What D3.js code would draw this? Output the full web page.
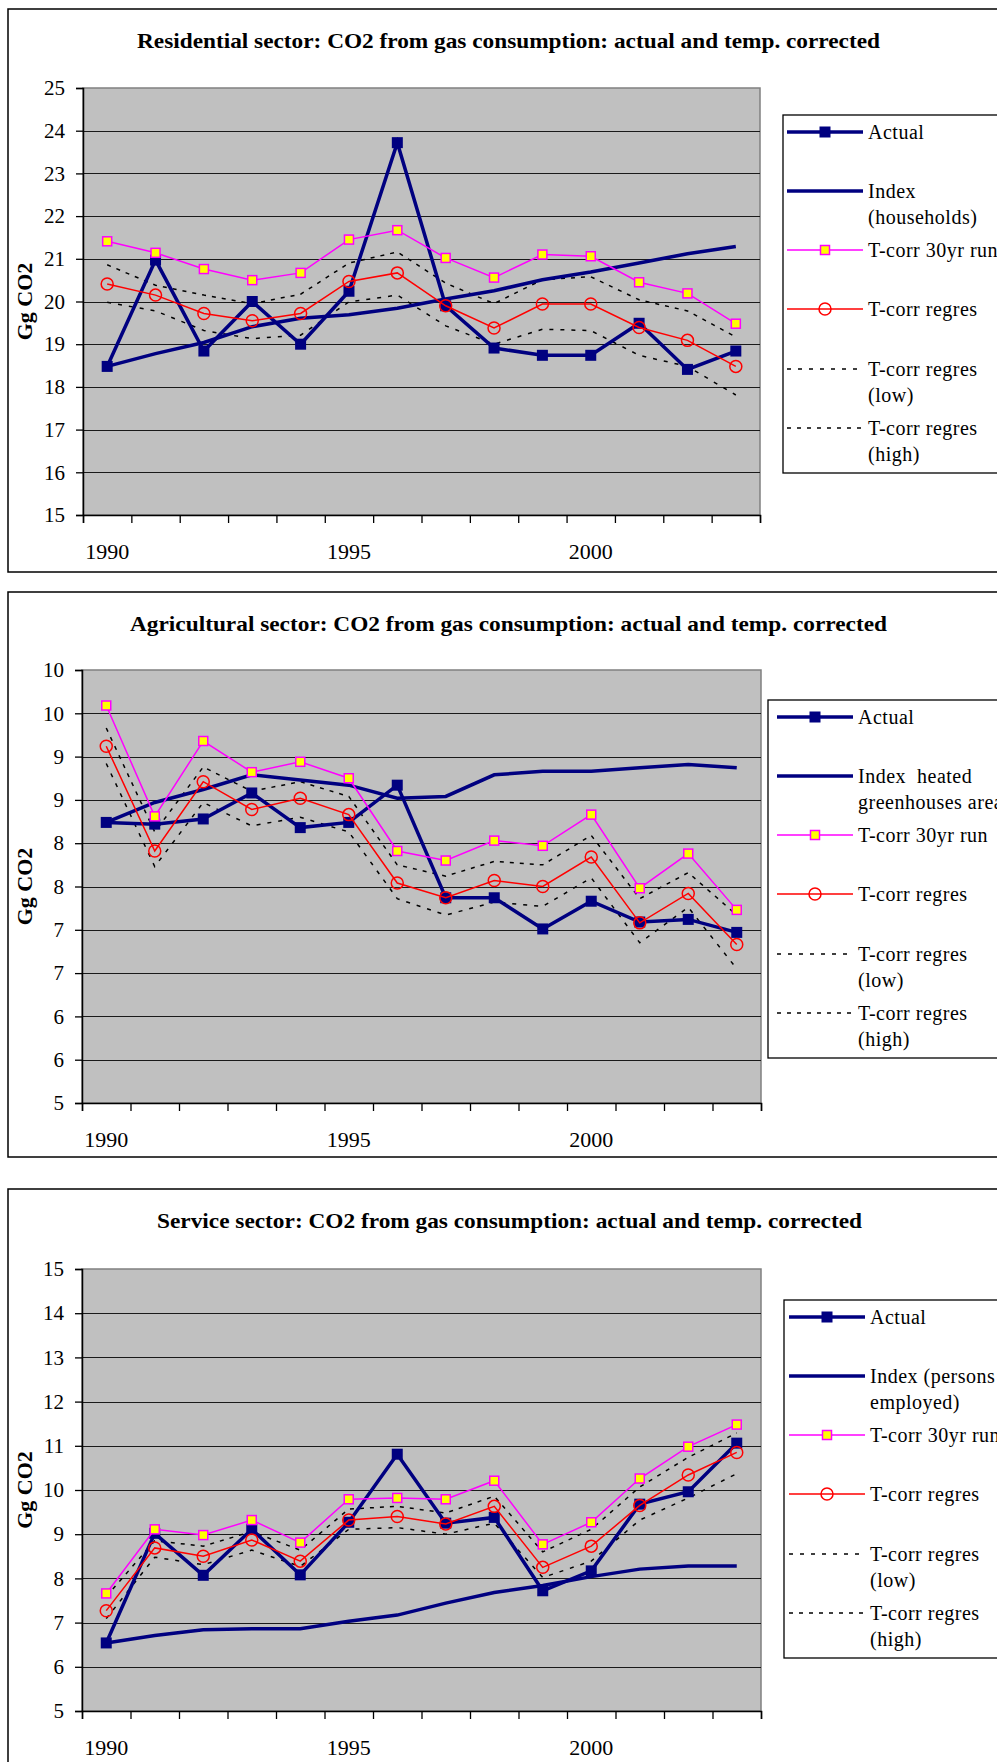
<!DOCTYPE html>
<html>
<head>
<meta charset="utf-8">
<script src="https://cdn.jsdelivr.net/npm/d3@7/dist/d3.min.js"></script>
<style>
    body { margin: 0; background: #fff; }
    svg text { font-family: "Liberation Serif", "Times New Roman", "DejaVu Serif", serif !important; }
</style>
</head>
<body>
<div id="chartdiv"></div>
<script>
// data (Gg CO2), one value per year
let years = [1990, 1991, 1992, 1993, 1994, 1995, 1996, 1997, 1998, 1999, 2000, 2001, 2002, 2003],
    yearLabels = [1990, 1995, 2000];

// residential
let actual1 = [18.48, 20.97, 18.84, 20.0, 19.0, 20.24, 23.72, 19.90, 18.91, 18.74, 18.74, 19.49, 18.41, 18.84],
    index1 = [18.48, 18.78, 19.04, 19.41, 19.61, 19.69, 19.84, 20.06, 20.25, 20.51, 20.69, 20.90, 21.12, 21.29],
    run1 = [21.41, 21.14, 20.76, 20.50, 20.67, 21.45, 21.67, 21.02, 20.56, 21.10, 21.06, 20.45, 20.19, 19.48],
    regres1 = [20.41, 20.15, 19.72, 19.55, 19.72, 20.47, 20.67, 19.90, 19.38, 19.94, 19.94, 19.39, 19.09, 18.48],
    low1 = [19.98, 19.78, 19.32, 19.13, 19.21, 19.99, 20.15, 19.43, 19.00, 19.35, 19.32, 18.74, 18.48, 17.81],
    high1 = [20.86, 20.38, 20.15, 19.95, 20.17, 20.90, 21.16, 20.43, 19.95, 20.51, 20.58, 20.04, 19.78, 19.17],
    ticks1 = [15, 16, 17, 18, 19, 20, 21, 22, 23, 24, 25];

// agricultural
let actual2 = [8.24, 8.22, 8.28, 8.58, 8.18, 8.24, 8.67, 7.37, 7.37, 7.01, 7.33, 7.09, 7.12, 6.97],
    index2 = [8.24, 8.47, 8.62, 8.79, 8.73, 8.67, 8.52, 8.54, 8.79, 8.83, 8.83, 8.87, 8.91, 8.87],
    run2 = [9.59, 8.31, 9.18, 8.82, 8.94, 8.75, 7.91, 7.80, 8.03, 7.97, 8.33, 7.48, 7.88, 7.23],
    regres2 = [9.12, 7.91, 8.71, 8.39, 8.52, 8.33, 7.54, 7.37, 7.57, 7.50, 7.84, 7.08, 7.42, 6.83],
    low2 = [8.92, 7.73, 8.47, 8.20, 8.30, 8.13, 7.36, 7.17, 7.32, 7.27, 7.60, 6.85, 7.26, 6.55],
    high2 = [9.33, 8.13, 8.88, 8.60, 8.71, 8.54, 7.75, 7.62, 7.79, 7.75, 8.09, 7.36, 7.66, 7.17],
    ticks2 = [5, 5.5, 6, 6.5, 7, 7.5, 8, 8.5, 9, 9.5, 10];

// service
let actual3 = [6.54, 9.02, 8.07, 9.11, 8.08, 9.27, 10.81, 9.25, 9.38, 7.72, 8.17, 9.68, 9.96, 11.06],
    index3 = [6.54, 6.71, 6.84, 6.86, 6.86, 7.03, 7.17, 7.44, 7.68, 7.84, 8.04, 8.21, 8.28, 8.28],
    run3 = [7.66, 9.11, 8.98, 9.32, 8.81, 9.79, 9.82, 9.79, 10.21, 8.77, 9.27, 10.26, 10.98, 11.48],
    regres3 = [7.27, 8.69, 8.50, 8.87, 8.39, 9.32, 9.40, 9.23, 9.63, 8.25, 8.73, 9.65, 10.34, 10.85],
    low3 = [7.09, 8.48, 8.31, 8.64, 8.27, 9.11, 9.15, 9.00, 9.25, 8.02, 8.39, 9.32, 9.82, 10.37],
    high3 = [7.59, 8.85, 8.73, 9.06, 8.64, 9.57, 9.63, 9.48, 9.86, 8.60, 9.11, 10.07, 10.74, 11.29],
    ticks3 = [5, 6, 7, 8, 9, 10, 11, 12, 13, 14, 15];

let titles = [
    "Residential sector: CO2 from gas consumption: actual and temp. corrected",
    "Agricultural sector: CO2 from gas consumption: actual and temp. corrected",
    "Service sector: CO2 from gas consumption: actual and temp. corrected"
];
let indexNames = [
    ["Index", "(households)"],
    ["Index\u00a0\u00a0heated", "greenhouses area"],
    ["Index (persons", "employed)"]
];

const navy = "#000080";

// series styles, in drawing order
function makeSeries(actual, index, run, regres, low, high) {
    return [
        { key: "low", values: low, color: "#000", width: 1.5, dash: "4,7", marker: null },
        { key: "high", values: high, color: "#000", width: 1.5, dash: "4,6", marker: null },
        { key: "index", values: index, color: navy, width: 3.5, dash: null, marker: null },
        { key: "actual", values: actual, color: navy, width: 3.5, dash: null, marker: "navysq" },
        { key: "run", values: run, color: "#ff00ff", width: 1.5, dash: null, marker: "yellowsq" },
        { key: "regres", values: regres, color: "#ff0000", width: 1.5, dash: null, marker: "circle" }
    ];
}

function drawMarker(g, type, cx, cy) {
    if (type == "navysq") {
        g.append("rect")
            .attr("x", cx - 5.5).attr("y", cy - 5.5)
            .attr("width", 11).attr("height", 11)
            .attr("fill", navy);
    } else if (type == "yellowsq") {
        g.append("rect")
            .attr("x", cx - 4.5).attr("y", cy - 4.5)
            .attr("width", 9).attr("height", 9)
            .attr("fill", "#ffff00")
            .attr("stroke", "#ff00ff")
            .attr("stroke-width", 1.5);
    } else if (type == "circle") {
        g.append("circle")
            .attr("cx", cx).attr("cy", cy).attr("r", 6)
            .attr("fill", "none")
            .attr("stroke", "#ff0000")
            .attr("stroke-width", 1.5);
    }
}

// one chart panel
function drawPanel(svg, p) {
    let g = svg.append("g");

    // outer frame (runs off the right edge)
    g.append("rect")
        .attr("x", 8)
        .attr("y", p.boxTop)
        .attr("width", 1100)
        .attr("height", p.boxBottom - p.boxTop)
        .attr("fill", "#fff")
        .attr("stroke", "#000")
        .attr("stroke-width", 1.5);

    // title
    g.append("text")
        .attr("x", p.titleX)
        .attr("y", p.boxTop + 39)
        .attr("textLength", p.titleLen)
        .attr("lengthAdjust", "spacingAndGlyphs")
        .attr("font-size", 21)
        .attr("font-weight", "bold")
        .text(p.title);

    let x = d3.scaleBand()
        .domain(years)
        .range([p.left, p.right]);
    let xEdge = d3.scaleLinear()
        .domain([0, years.length])
        .range([p.left, p.right]);
    let y = d3.scaleLinear()
        .domain([p.ticks[0], p.ticks[p.ticks.length - 1]])
        .range([p.bottom, p.top]);

    // plot area
    g.append("rect")
        .attr("x", p.left)
        .attr("y", p.top)
        .attr("width", p.right - p.left)
        .attr("height", p.bottom - p.top)
        .attr("fill", "#c0c0c0")
        .attr("stroke", "#808080")
        .attr("stroke-width", 1.5);

    // gridlines
    g.selectAll(".grid")
        .data(p.ticks.slice(1, -1))
        .enter()
        .append("line")
        .attr("x1", p.left)
        .attr("x2", p.right)
        .attr("y1", d => Math.round(y(d)) + 0.5)
        .attr("y2", d => Math.round(y(d)) + 0.5)
        .attr("stroke", "#1a1a1a")
        .attr("stroke-width", 1);

    // axes
    let yAxis = d3.axisLeft(y)
        .tickValues(p.ticks)
        .tickSize(7)
        .tickPadding(11)
        .tickFormat(d => Math.round(d));
    let ya = g.append("g")
        .attr("transform", "translate(" + p.left + ",0)")
        .call(yAxis);
    ya.attr("font-family", null);
    ya.selectAll("text").attr("font-size", 21).attr("fill", "#000");
    ya.selectAll("line").attr("stroke", "#000").attr("stroke-width", 1.3);
    ya.select(".domain").attr("stroke", "#000").attr("stroke-width", 1.5);

    let xAxis = d3.axisBottom(xEdge)
        .tickValues(d3.range(0, years.length + 1))
        .tickSize(8)
        .tickFormat("");
    let xa = g.append("g")
        .attr("transform", "translate(0," + p.bottom + ")")
        .call(xAxis);
    xa.selectAll("line").attr("stroke", "#000").attr("stroke-width", 1.3);
    xa.select(".domain").attr("stroke", "#000").attr("stroke-width", 1.5);

    g.selectAll(".xlab")
        .data(yearLabels)
        .enter()
        .append("text")
        .attr("x", d => x(d) + x.bandwidth() / 2)
        .attr("y", p.bottom + 44)
        .attr("text-anchor", "middle")
        .attr("font-size", 22)
        .text(d => d);

    // y title
    g.append("text")
        .attr("transform", "translate(32," + (p.top + p.bottom) / 2 + ") rotate(-90)")
        .attr("text-anchor", "middle")
        .attr("font-size", 22)
        .attr("font-weight", "bold")
        .text("Gg CO2");

    // lines
    let line = d3.line()
        .x((d, i) => x(years[i]) + x.bandwidth() / 2)
        .y(d => y(d));
    p.series.forEach(function(s) {
        g.append("path")
            .datum(s.values)
            .attr("d", line)
            .attr("fill", "none")
            .attr("stroke", s.color)
            .attr("stroke-width", s.width)
            .attr("stroke-dasharray", s.dash)
            .attr("stroke-linejoin", "miter");
        if (s.marker) {
            s.values.forEach(function(v, i) {
                drawMarker(g, s.marker, x(years[i]) + x.bandwidth() / 2, y(v));
            });
        }
    });

    // legend
    {
        let L = p.legend;
        g.append("rect")
            .attr("x", L.box)
            .attr("y", L.top)
            .attr("width", 400)
            .attr("height", 358)
            .attr("fill", "#fff")
            .attr("stroke", "#000")
            .attr("stroke-width", 1.3);

        let entries = [
            { s: "actual", lines: ["Actual"], dy: 17 },
            { s: "index", lines: p.indexName, dy: 76 },
            { s: "run", lines: ["T-corr 30yr run"], dy: 135 },
            { s: "regres", lines: ["T-corr regres"], dy: 194 },
            { s: "low", lines: ["T-corr regres", "(low)"], dy: 254 },
            { s: "high", lines: ["T-corr regres", "(high)"], dy: 313 }
        ];
        entries.forEach(function(e) {
            let s = p.series.find(d => d.key == e.s);
            let ly = L.top + e.dy;
            g.append("line")
                .attr("x1", L.x)
                .attr("x2", L.x + 76)
                .attr("y1", ly)
                .attr("y2", ly)
                .attr("stroke", s.color)
                .attr("stroke-width", s.width)
                .attr("stroke-dasharray", s.dash);
            if (s.marker)
                drawMarker(g, s.marker, L.x + 38, ly);
            e.lines.forEach(function(t, k) {
                g.append("text")
                    .attr("x", L.x + 81)
                    .attr("y", ly + k * 26)
                    .attr("dy", "0.33em")
                    .attr("font-size", 20)
                    .attr("letter-spacing", 0.5)
                    .text(t);
            });
        });
    }
}

// main
let svg = d3.select("#chartdiv")
    .append("svg")
    .attr("width", 997)
    .attr("height", 1762)
    .attr("font-family", "Liberation Serif");
svg.append("rect").attr("width", 997).attr("height", 1762).attr("fill", "#fff");

drawPanel(svg, {
    title: titles[0], titleX: 137, titleLen: 743,
    boxTop: 9, boxBottom: 572,
    left: 83, right: 760, top: 88, bottom: 515,
    ticks: ticks1,
    series: makeSeries(actual1, index1, run1, regres1, low1, high1),
    indexName: indexNames[0],
    legend: { box: 783, x: 787, top: 115 }
});
drawPanel(svg, {
    title: titles[1], titleX: 130, titleLen: 757,
    boxTop: 592, boxBottom: 1157,
    left: 82, right: 761, top: 670, bottom: 1103,
    ticks: ticks2,
    series: makeSeries(actual2, index2, run2, regres2, low2, high2),
    indexName: indexNames[1],
    legend: { box: 768, x: 777, top: 700 }
});
drawPanel(svg, {
    title: titles[2], titleX: 157, titleLen: 705,
    boxTop: 1189, boxBottom: 1800,
    left: 82, right: 761, top: 1269, bottom: 1711,
    ticks: ticks3,
    series: makeSeries(actual3, index3, run3, regres3, low3, high3),
    indexName: indexNames[2],
    legend: { box: 784, x: 789, top: 1300 }
});
</script>
</body>
</html>
